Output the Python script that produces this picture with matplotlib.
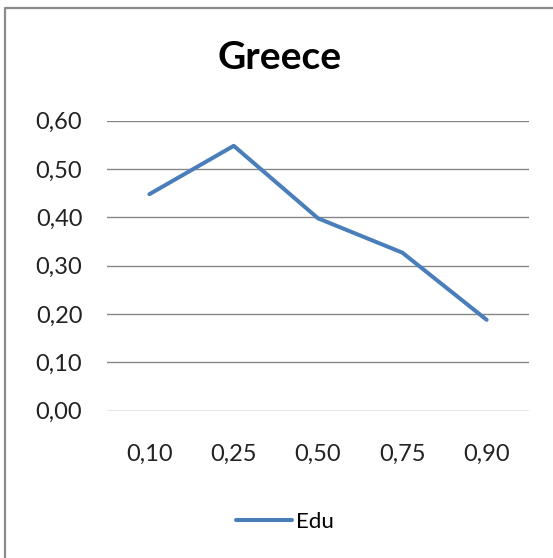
import matplotlib
matplotlib.use("Agg")
from matplotlib import pyplot as plt
from matplotlib import ticker
from matplotlib.lines import Line2D

plt.rcParams["font.family"] = ["Lato", "DejaVu Sans"]

quantiles = ["0,10", "0,25", "0,50", "0,75", "0,90"]
edu = [0.448, 0.548, 0.398, 0.327, 0.188]
yticks = [0.0, 0.1, 0.2, 0.3, 0.4, 0.5, 0.6]

W, H = 553, 558
fig = plt.figure(figsize=(W / 100, H / 100), dpi=100)

# chart area frame (only top and left edges show)
fig.lines.append(Line2D([5 / W, 5 / W, 1], [0, (H - 8) / H, (H - 8) / H],
                        transform=fig.transFigure, color="#8a8a8a", linewidth=1.6))

ax = fig.add_axes([107.3 / W, (H - 410.7) / H, 421.5 / W, 290 / H])
x = range(len(quantiles))
line, = ax.plot(x, edu, color="#4a7ebb", linewidth=2.9, solid_capstyle="round",
                solid_joinstyle="round", label="Edu", zorder=3)

ax.set_xlim(-0.5, len(quantiles) - 0.5)
ax.set_ylim(0, 0.6)
ax.set_yticks(yticks)
ax.yaxis.set_major_formatter(ticker.FuncFormatter(lambda v, p: f"{v:.2f}".replace(".", ",")))
ax.set_xticks(list(x))
ax.set_xticklabels(quantiles)
ax.grid(axis="y", color="#868686", linewidth=1)
ax.set_axisbelow(True)
for s in ax.spines.values():
    s.set_visible(False)
ax.tick_params(length=0, labelsize=17, colors="#222222")
ax.tick_params(axis="y", pad=18)
ax.tick_params(axis="x", pad=24)

fig.text(280 / W, (H - 69) / H, "Greece", ha="center", va="baseline",
         fontsize=28, fontweight="bold", color="black")

fig.legend(handles=[line], loc="center", bbox_to_anchor=(285 / W, (H - 522) / H),
           frameon=False, fontsize=16, handlelength=2.5, handletextpad=0.2)

fig.savefig("out.png", dpi=100)
